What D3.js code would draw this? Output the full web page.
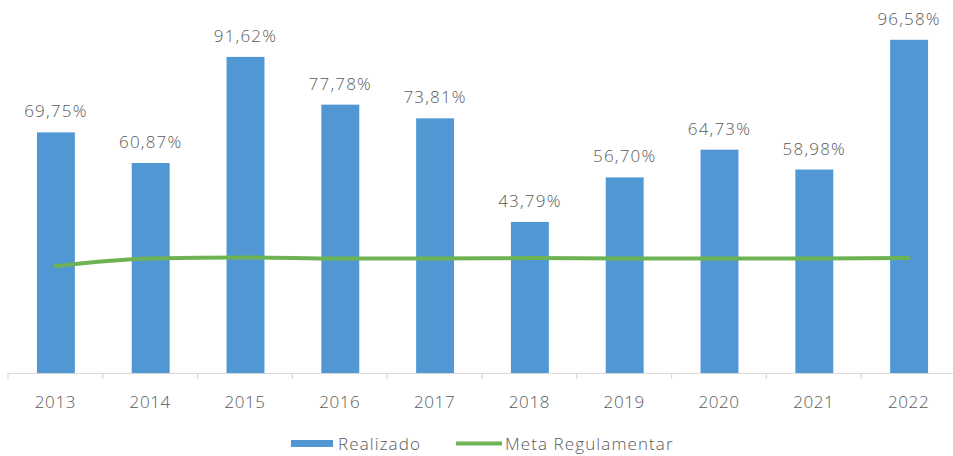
<!doctype html>
<meta charset="utf-8">
<script src="https://cdnjs.cloudflare.com/ajax/libs/d3/7.8.5/d3.min.js"></script>
<style>
body { margin: 0; background: #fff; }
text { font-family: "Open Sans", "Noto Sans", sans-serif; font-weight: 300; fill: #595959; }
</style>
<body>
<script>
// chart data
var years = ["2013", "2014", "2015", "2016", "2017", "2018", "2019", "2020", "2021", "2022"];
var realizado = [69.75, 60.87, 91.62, 77.78, 73.81, 43.79, 56.70, 64.73, 58.98, 96.58];
var meta = [31.0, 33.2, 33.5, 33.2, 33.2, 33.3, 33.2, 33.2, 33.2, 33.3];

var width = 953, height = 456;

var svg = d3.select("body").append("svg")
    .attr("width", width)
    .attr("height", height);

// set the ranges
var x = d3.scaleBand()
    .domain(years)
    .range([8, 956])
    .padding(0);
var y = d3.scaleLinear()
    .domain([0, 100])
    .range([373, 28]);

var barW = x.bandwidth() * 0.4;
var fmt = function(v) { return v.toFixed(2).replace(".", ",") + "%"; };

// bars
svg.selectAll(".bar")
    .data(realizado)
  .enter().append("rect")
    .attr("class", "bar")
    .attr("x", function(d, i) { return x(years[i]) + x.bandwidth() / 2 - barW / 2 + 0.5; })
    .attr("width", barW)
    .attr("y", function(d) { return y(d); })
    .attr("height", function(d) { return y(0) - y(d); })
    .attr("fill", "#5097D3");

// value labels
svg.selectAll(".lbl")
    .data(realizado)
  .enter().append("text")
    .attr("class", "lbl")
    .attr("x", function(d, i) { return x(years[i]) + x.bandwidth() / 2 + 0.5; })
    .attr("y", function(d) { return y(d) - 15; })
    .attr("text-anchor", "middle")
    .attr("font-size", 17)
    .attr("letter-spacing", 1.2)
    .text(fmt);

// x axis
var xAxis = svg.append("g")
    .attr("transform", "translate(0," + y(0) + ")")
    .call(d3.axisBottom(x).tickSize(0).tickPadding(23));
xAxis.select(".domain").attr("stroke", "#d9d9d9").attr("stroke-width", 1.2);
xAxis.selectAll("text")
    .attr("font-size", 17)
    .attr("letter-spacing", 0.6)
    .attr("fill", "#595959")
    .attr("font-family", "Open Sans, Noto Sans, sans-serif");
// tick marks at band boundaries
xAxis.selectAll(".sep")
    .data(years.concat(["end"]))
  .enter().append("line")
    .attr("x1", function(d, i) { return i < years.length ? x(d) : x.range()[1] - 1; })
    .attr("x2", function(d, i) { return i < years.length ? x(d) : x.range()[1] - 1; })
    .attr("y1", 0)
    .attr("y2", 6)
    .attr("stroke", "#d9d9d9")
    .attr("stroke-width", 1.2);

// meta line
var line = d3.line()
    .x(function(d, i) { return x(years[i]) + x.bandwidth() / 2; })
    .y(function(d) { return y(d); })
    .curve(d3.curveMonotoneX);
svg.append("path")
    .datum(meta)
    .attr("d", line)
    .attr("fill", "none")
    .attr("stroke", "#6DB353")
    .attr("stroke-width", 4)
    .attr("stroke-linecap", "round");

// legend
var lg = svg.append("g");
lg.append("rect").attr("x", 291).attr("y", 440).attr("width", 42).attr("height", 7).attr("fill", "#5097D3");
lg.append("text").attr("x", 338).attr("y", 450).attr("font-size", 17).attr("letter-spacing", 1.1).text("Realizado");
lg.append("line").attr("x1", 456).attr("x2", 502).attr("y1", 443.5).attr("y2", 443.5)
    .attr("stroke", "#6DB353").attr("stroke-width", 4);
lg.append("text").attr("x", 505).attr("y", 450).attr("font-size", 17).attr("letter-spacing", 1.1).text("Meta Regulamentar");
</script>
</body>
